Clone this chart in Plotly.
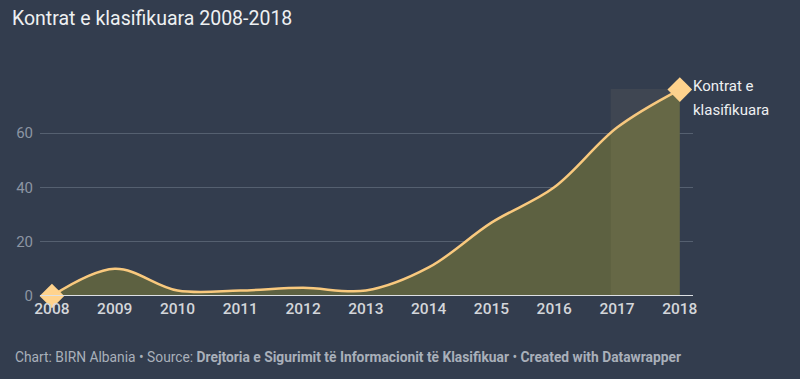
import plotly.graph_objects as go

years = [2008, 2009, 2010, 2011, 2012, 2013, 2014, 2015, 2016, 2017, 2018]
contracts = [0, 10, 2, 2, 3, 2, 10.5, 27, 40, 62, 76]
y_ticks = [0, 20, 40, 60]
series_label_lines = ["Kontrat e", "klasifikuara"]

BG = "#333d4e"
LINE = "#f9c97e"
FILL = "#5d6141"

PL, PR, PT, PB = 40, 107, 89, 83
PW, PH = 800 - PL - PR, 379 - PT - PB

fig = go.Figure()
fig.add_trace(go.Scatter(
    x=years, y=contracts, mode="lines",
    line=dict(color=LINE, width=2.5, shape="spline", smoothing=1.0),
    fill="tozeroy", fillcolor=FILL, hoverinfo="skip", showlegend=False,
))
fig.add_trace(go.Scatter(
    x=[years[0], years[-1]], y=[contracts[0], contracts[-1]], mode="markers",
    marker=dict(symbol="diamond", size=19, color="#ffd38d", line=dict(width=0)),
    cliponaxis=False, showlegend=False, hoverinfo="skip",
))

fig.add_shape(type="rect", xref="x", yref="paper", x0=2016.9, x1=2018, y0=0, y1=1,
              fillcolor="rgba(220,200,140,0.07)", line=dict(width=0), layer="above")
fig.add_shape(type="line", xref="paper", yref="y", x0=0, x1=1, y0=0, y1=0,
              line=dict(color="#dde0e4", width=2), layer="above")

for i, line_txt in enumerate(series_label_lines):
    fig.add_annotation(x=2018, y=contracts[-1], xref="x", yref="y", text=line_txt,
                       showarrow=False, xanchor="left", yanchor="middle",
                       xshift=11, yshift=4 - 24 * i,
                       align="left", font=dict(family="Roboto", size=15, color="#eef0f2"))

fig.update_layout(
    width=800, height=379,
    paper_bgcolor=BG, plot_bgcolor=BG,
    margin=dict(l=PL, r=PR, t=PT, b=PB),
    title=dict(text="Kontrat e klasifikuara 2008-2018", x=12 / 800, xanchor="left",
               y=1 - 18 / 379, yanchor="middle",
               font=dict(family="Roboto", size=19.5, color="#eef0f2")),
    xaxis=dict(range=[2007.81, 2018.21], tickvals=years, showgrid=False, zeroline=False,
               ticks="", tickfont=dict(family="Roboto", size=15.5, color="#d3d6da", weight=500),
               showline=False, fixedrange=True),
    yaxis=dict(range=[0, 76.2], tickvals=y_ticks, showgrid=True, gridcolor="#556070",
               gridwidth=1, zeroline=False, ticks="",
               tickfont=dict(family="Roboto", size=15, color="#8c95a3"), fixedrange=True),
    font=dict(family="Roboto"),
)
fig.update_xaxes(ticklabelstandoff=1)
fig.update_yaxes(ticklabelstandoff=6)

fig.add_annotation(
    x=(13 - PL) / PW, y=(296 - 357) / PH, xref="paper", yref="paper",
    xanchor="left", yanchor="middle", showarrow=False, align="left",
    text=("Chart: BIRN Albania • Source: <b>Drejtoria e Sigurimit të Informacionit të Klasifikuar</b>"
          " • <b>Created with Datawrapper</b>"),
    font=dict(family="Roboto", size=13.8, color="#a9b0ba"),
)

fig.write_html("out.html", config={"displayModeBar": False},
               post_script="document.body.style.margin='0';")
